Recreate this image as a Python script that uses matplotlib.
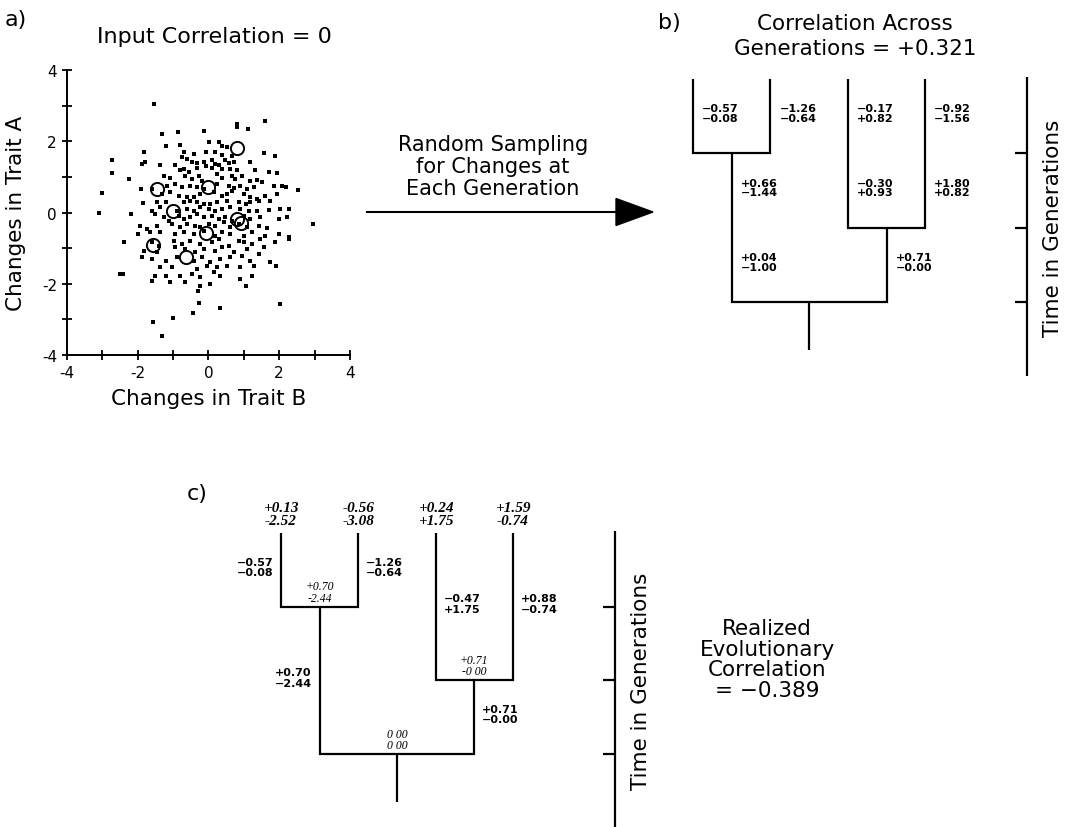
import matplotlib.pyplot as plt
from matplotlib.patches import Polygon

plt.rcParams['font.family'] = ['DejaVu Sans']
plt.rcParams['axes.unicode_minus'] = False

# ---- panel a: random changes (trait B on x, trait A on y) ----
trait_b = [
    -1.53, 1.60, 0.82, 0.82, 1.13, -0.12, -1.30, -0.85, -1.82, -2.73, -2.73, -3.01,
    -3.08, -2.23, -2.18, -2.37, -2.42, -2.49, -1.55, -1.32, -1.01, -0.42, -0.26, 0.33,
    2.02, -0.30, 2.95, 2.52, 2.28, -1.82, -1.88, -1.93, -2.00, -1.74, -1.65, -1.85,
    -1.91, -1.88, -1.78,
    -1.21, -0.81, 0.01, 0.29, 0.39, 0.53,
    -0.70, -0.41, -0.08, 0.20, 0.39, 0.67, 1.56, 1.89,
    -0.74, -0.60, -0.46, -0.32, -0.13, 0.10, 0.20, 0.48, 0.57, 0.72, 1.19, -1.36,
    -0.93, -0.81, -0.70, -0.56, -0.32, -0.08, 0.10, 0.29, 0.39, 0.62, 0.81, 1.33, 1.71, 1.94,
    -1.26, -1.07, -0.65, -0.46, -0.27, -0.18, 0.25, 0.39, 0.67, 0.76, 0.95, 1.19, 1.38, 1.52,
    -1.59, -1.17, -0.93, -0.74, -0.51, -0.32, -0.13, 0.25, 0.57, 0.72, 0.90, 1.09, 1.28, 1.85, 2.08, 2.18,
    -1.31, -1.07, -0.84, -0.60, -0.41, -0.23, 0.15, 0.39, 0.53, 0.67, 1.00, 1.19, 1.38, 1.61, 1.94,
    -1.45, -1.21, -0.70, -0.51, -0.32, -0.13, 0.06, 0.25, 0.53, 0.86, 1.05, 1.19, 1.42, 1.75,
    -1.59, -1.36, -0.88, -0.60, -0.41, -0.23, 0.01, 0.20, 0.39, 0.62, 0.90, 1.14, 1.38, 1.71, 2.03, 2.27,
    -1.50, -1.26, -1.12, -0.84, -0.70, -0.51, -0.32, -0.13, 0.10, 0.29, 0.48, 0.67, 1.00, 1.19, 1.47, 1.99, 2.22,
    -1.45, -1.03, -0.79, -0.60, -0.37, -0.23, 0.01, 0.20, 0.43, 0.62, 0.86, 1.09, 1.42, 1.66,
    -1.36, -0.93, -0.70, -0.41, -0.13, 0.20, 0.39, 0.62, 1.00, 1.23, 1.61, 1.99, 2.27,
    -1.59, -1.40, -0.98, -0.74, -0.51, -0.23, 0.10, 0.29, 0.57, 0.86, 1.00, 1.23, 1.47, 1.89,
    -1.45, -0.93, -0.65, -0.37, -0.13, 0.20, 0.39, 0.72, 1.09, 1.42, 1.56,
    -1.59, -1.21, -0.88, -0.41, -0.18, 0.06, 0.34, 0.62, 0.95, 1.19, 1.75,
    -1.36, -1.03, -0.32, -0.04, 0.25, 0.53, 0.90, 1.28, 1.92,
    -1.50, -1.21, -0.79, -0.46, -0.23, 0.15, 0.34, 0.90, 1.23,
    -1.59, -1.07, -0.65, -0.23, 0.06, 1.05,
]
trait_a = [
    3.04, 2.57, 2.48, 2.41, 2.34, 2.29, 2.20, 2.26, 1.70, 1.47, 1.10, 0.54,
    0.00, 0.94, -0.05, -0.82, -1.73, -1.73, -3.07, -3.46, -2.95, -2.81, -2.54, -2.67,
    -2.57, -2.20, -0.31, 0.64, -0.75, -1.08, -1.26, -0.37, -0.61, -0.47, -0.56, 0.28,
    0.65, 1.36, 1.43,
    1.88, 1.90, 1.97, 1.99, 1.86, 1.83,
    1.69, 1.64, 1.69, 1.71, 1.62, 1.60, 1.67, 1.60,
    1.55, 1.50, 1.43, 1.39, 1.41, 1.48, 1.36, 1.46, 1.39, 1.41, 1.41, 1.32,
    1.32, 1.18, 1.22, 1.13, 1.24, 1.30, 1.24, 1.32, 1.22, 1.22, 1.18, 1.18, 1.13, 1.11,
    1.03, 0.96, 1.03, 0.94, 1.02, 0.89, 1.08, 0.96, 1.02, 0.94, 1.03, 0.89, 0.92, 0.87,
    0.66, 0.75, 0.80, 0.71, 0.75, 0.71, 0.66, 0.80, 0.75, 0.68, 0.75, 0.66, 0.71, 0.75, 0.74, 0.71,
    0.52, 0.57, 0.47, 0.43, 0.43, 0.52, 0.57, 0.47, 0.52, 0.61, 0.52, 0.43, 0.38, 0.47, 0.52,
    0.29, 0.29, 0.29, 0.33, 0.29, 0.24, 0.24, 0.29, 0.33, 0.29, 0.24, 0.29, 0.33, 0.33,
    0.05, 0.15, 0.05, 0.10, 0.05, 0.15, 0.10, 0.05, 0.10, 0.15, 0.10, 0.05, 0.05, 0.08, 0.10, 0.10,
    -0.04, -0.14, -0.23, -0.09, -0.18, -0.14, -0.04, -0.14, -0.09, -0.18, -0.14, -0.23, -0.09, -0.18, -0.14, -0.18, -0.14,
    -0.37, -0.32, -0.42, -0.32, -0.37, -0.42, -0.32, -0.37, -0.28, -0.42, -0.32, -0.42, -0.39, -0.44,
    -0.56, -0.60, -0.56, -0.60, -0.51, -0.65, -0.56, -0.60, -0.65, -0.56, -0.65, -0.60, -0.70,
    -0.84, -0.93, -0.79, -0.88, -0.79, -0.88, -0.84, -0.74, -0.93, -0.79, -0.84, -0.88, -0.74, -0.84,
    -1.12, -0.98, -1.03, -1.12, -1.03, -1.07, -0.98, -1.12, -1.03, -1.17, -0.98,
    -1.31, -1.35, -1.26, -1.35, -1.26, -1.40, -1.31, -1.26, -1.21, -1.35, -1.40,
    -1.54, -1.54, -1.59, -1.49, -1.54, -1.49, -1.54, -1.49, -1.49,
    -1.77, -1.77, -1.77, -1.73, -1.82, -1.68, -1.77, -1.87, -1.77,
    -1.91, -1.96, -1.96, -2.05, -2.01, -2.05,
]

# the nine changes that were drawn for the tree (trait A, trait B)
# order: tip0, tip1, tip2 upper, tip3 upper, tip2 lower, tip3 lower,
#        left stem upper, left stem lower, right stem
seg_a = [-0.57, -1.26, -0.17, -0.92, -0.30, 1.80, 0.66, 0.04, 0.71]
seg_b = [-0.08, -0.64, 0.82, -1.56, 0.93, 0.82, -1.44, -1.00, -0.00]
seg_branch = [0, 1, 2, 3, 2, 3, 'L', 'L', 'R']
seg_gen = [3, 3, 3, 3, 2, 2, 2, 1, 1]  # lower generation of each segment

# ---- panel c: summed changes ----
c_branch = [0, 1, 2, 3, 'L', 'R']
c_branch_a = [-0.57, -1.26, -0.47, 0.88, 0.70, 0.71]
c_branch_b = [-0.08, -0.64, 1.75, -0.74, -2.44, -0.00]
c_branch_gens = [(3, 4), (3, 4), (2, 4), (2, 4), (1, 3), (1, 2)]
c_branch_side = [-1, 1, 1, 1, -1, 1]
tip_a = ['+0.13', '-0.56', '+0.24', '+1.59']
tip_b = ['-2.52', '-3.08', '+1.75', '-0.74']
node_names = ['root', 'L', 'R']
node_text = ['0 00\n0 00', '+0.70\n-2.44', '+0.71\n-0 00']

# tree topology (generations)
tip_gen = 4
left_split = 3
right_split = 2
root_split = 1
stem_end = 0.35


def fmt(v):
    return f"{v:+.2f}".replace('-', '\u2212')


fig = plt.figure(figsize=(10.71, 8.28), dpi=100)

# scatter panel
ax = fig.add_axes([66.7 / 1071, 1 - 356 / 828, 283.3 / 1071, 285 / 828])
ax.plot(trait_b, trait_a, 's', color='black', markersize=2.8, markeredgewidth=0)
ax.plot(seg_b, seg_a, 'o', mfc='none', mec='black', mew=1.4, markersize=9.5)
ax.set_xlim(-4, 4)
ax.set_ylim(-4, 4)
ax.set_xticks([-4, -2, 0, 2, 4])
ax.set_yticks([-4, -2, 0, 2, 4])
ax.set_xticks([-3, -1, 1, 3], minor=True)
ax.set_yticks([-3, -1, 1, 3], minor=True)
ax.tick_params(which='both', direction='inout', length=7, width=1.3, labelsize=11)
ax.spines['top'].set_visible(False)
ax.spines['right'].set_visible(False)
ax.spines['left'].set_linewidth(1.4)
ax.spines['bottom'].set_linewidth(1.4)
ax.set_xlabel('Changes in Trait B', fontsize=15.5)
ax.set_ylabel('Changes in Trait A', fontsize=15.5)
ax.xaxis.set_label_coords(0.502, -0.115)
ax.yaxis.set_label_coords(-0.145, 0.5)

# overlay in pixel coordinates for diagrams and text
ov = fig.add_axes([0, 0, 1, 1])
ov.set_xlim(0, 1071)
ov.set_ylim(828, 0)
ov.axis('off')
ov.patch.set_visible(False)

ov.text(5, 20, 'a)', fontsize=16, va='center')
ov.text(214, 37, 'Input Correlation = 0', fontsize=16, ha='center', va='center')

# arrow between a and b
ov.plot([367, 618], [213, 213], color='black', lw=1.5)
ov.add_patch(Polygon([[616, 199.5], [653, 213], [616, 226.5]], closed=True, color='black'))
ov.text(493, 167, 'Random Sampling\nfor Changes at\nEach Generation', fontsize=15,
        ha='center', va='center', linespacing=1.1)


def draw_tree(x0, dx, y_top, dy, axis_x, lw=1.6):
    tx = [x0 + i * dx for i in range(4)]

    def gy(g):
        return y_top + (tip_gen - g) * dy

    ln = (tx[0] + tx[1]) / 2
    rn = (tx[2] + tx[3]) / 2
    rt = (ln + rn) / 2
    kw = dict(color='black', lw=lw, solid_joinstyle='miter', solid_capstyle='butt')
    ov.plot([tx[0], tx[0], tx[1], tx[1]], [gy(tip_gen), gy(left_split), gy(left_split), gy(tip_gen)], **kw)
    ov.plot([tx[2], tx[2], tx[3], tx[3]], [gy(tip_gen), gy(right_split), gy(right_split), gy(tip_gen)], **kw)
    ov.plot([ln, ln, rn, rn], [gy(left_split), gy(root_split), gy(root_split), gy(right_split)], **kw)
    ov.plot([rt, rt], [gy(root_split), gy(stem_end)], **kw)

    # time axis
    ov.plot([axis_x, axis_x], [gy(tip_gen + 0.03), gy(0)], **kw)
    for g in (root_split, right_split, left_split):
        ov.plot([axis_x - 12, axis_x], [gy(g), gy(g)], **kw)
    ov.text(axis_x + 26, gy(2), 'Time in Generations', rotation=90, fontsize=15.5,
            ha='center', va='center')
    xs = {0: tx[0], 1: tx[1], 2: tx[2], 3: tx[3], 'L': ln, 'R': rn, 'root': rt}
    return xs, gy


# panel b
ov.text(658, 23, 'b)', fontsize=16, va='center')
ov.text(855, 24, 'Correlation Across', fontsize=15.5, ha='center', va='center')
ov.text(855, 49, 'Generations = +0.321', fontsize=15.5, ha='center', va='center')
xs, gy = draw_tree(693, 77.4, 80, 74.3, 1027)
for a, b, br, g in zip(seg_a, seg_b, seg_branch, seg_gen):
    ov.text(xs[br] + 9, (gy(g) + gy(g + 1)) / 2 - 3, fmt(a) + '\n' + fmt(b),
            fontsize=8, fontweight='bold', ha='left', va='center', linespacing=0.95)

# panel c
ov.text(187, 494, 'c)', fontsize=16, va='center')
xs, gy = draw_tree(281, 77.3, 534, 73.7, 615)
for a, b, br, (g0, g1), side in zip(c_branch_a, c_branch_b, c_branch, c_branch_gens, c_branch_side):
    ov.text(xs[br] + side * 8, (gy(g0) + gy(g1)) / 2 - 3, fmt(a) + '\n' + fmt(b),
            fontsize=8, fontweight='bold', ha='left' if side > 0 else 'right',
            va='center', linespacing=1.05)
for i in range(4):
    ov.text(xs[i], gy(tip_gen) - 6, tip_a[i] + '\n' + tip_b[i], fontsize=11,
            family='Liberation Serif', style='italic', fontweight='bold',
            ha='center', va='bottom', linespacing=1.0)
node_gen = {'root': root_split, 'L': left_split, 'R': right_split}
for name, txt in zip(node_names, node_text):
    ov.text(xs[name], gy(node_gen[name]) - 3, txt, fontsize=8.5,
            family='Liberation Serif', style='italic', ha='center', va='bottom',
            linespacing=0.95)

ov.text(767, 660, 'Realized\nEvolutionary\nCorrelation\n= \u22120.389', fontsize=15.5,
        ha='center', va='center', linespacing=1.05)

fig.savefig('out.png', dpi=100, facecolor='white')
